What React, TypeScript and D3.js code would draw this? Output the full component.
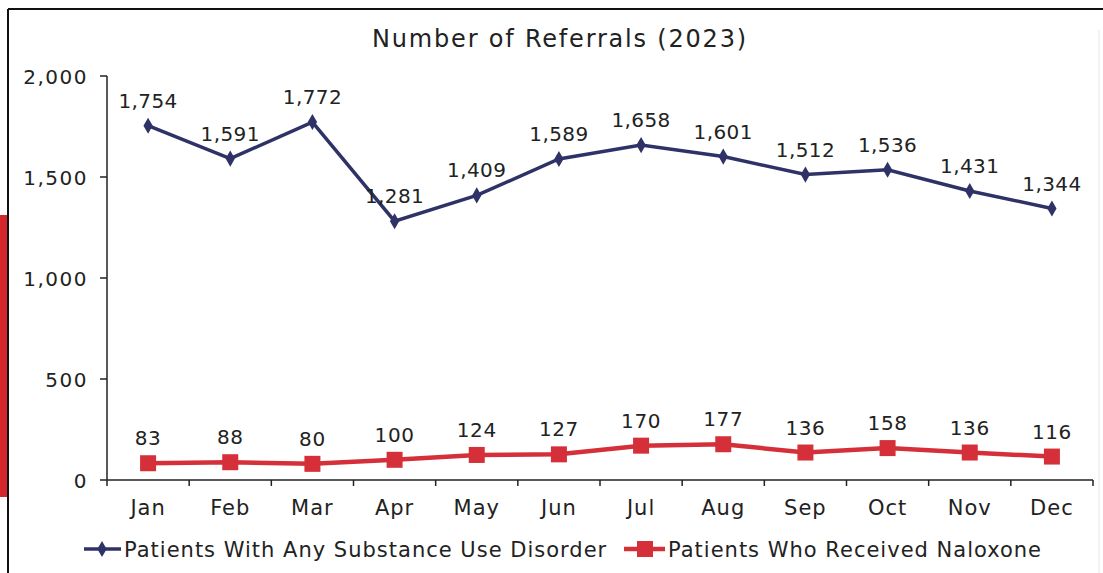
import React from "react";
import * as d3 from "d3";

const months = ["Jan", "Feb", "Mar", "Apr", "May", "Jun", "Jul", "Aug", "Sep", "Oct", "Nov", "Dec"];
const sudValues = [1754, 1591, 1772, 1281, 1409, 1589, 1658, 1601, 1512, 1536, 1431, 1344];
const naloxoneValues = [83, 88, 80, 100, 124, 127, 170, 177, 136, 158, 136, 116];
const yTicks = [0, 500, 1000, 1500, 2000];
const seriesNames = ["Patients With Any Substance Use Disorder", "Patients Who Received Naloxone"];

const W = 1103, H = 573;
const NAVY = "#2f3266";
const RED = "#d5303a";
const FONT = "'DejaVu Sans', sans-serif";
const TXT = "#222";

export default function App() {
  const left = 107, right = 1093, top = 76, bottom = 480;
  const x = d3.scaleBand<string>().domain(months).range([left, right]);
  const y = d3.scaleLinear().domain([0, 2000]).range([bottom, top]);
  const cx = (m: string) => (x(m) ?? 0) + x.bandwidth() / 2;
  const line = d3.line<number>().x((_, i) => cx(months[i])).y((d) => y(d));
  const fmt = d3.format(",");
  const diamond = d3.symbol(d3.symbolDiamond, 75)() ?? "";

  return (
    <svg width={W} height={H} style={{ position: "absolute", left: 0, top: 0, background: "#fff" }}>
      <rect x={0} y={0} width={W} height={H} fill="#fff" />
      {/* frame */}
      <line x1={8} x2={W} y1={9} y2={9} stroke="#111" strokeWidth={2} />
      <line x1={8} x2={8} y1={9} y2={H} stroke="#111" strokeWidth={2} />
      <line x1={1099} x2={1099} y1={30} y2={H} stroke="#e6e6e6" strokeWidth={1} />
      <rect x={0} y={215} width={7} height={282} fill="#d4262d" />

      <text x={560} y={47} textAnchor="middle" fontFamily={FONT} fontSize={24} letterSpacing={1.8} fill={TXT}>
        Number of Referrals (2023)
      </text>

      {/* y axis */}
      <line x1={left} x2={left} y1={top} y2={bottom} stroke="#222" strokeWidth={1.5} />
      {yTicks.map((t) => (
        <g key={t}>
          <line x1={left - 7} x2={left} y1={y(t)} y2={y(t)} stroke="#222" strokeWidth={1.5} />
          <text x={88} y={y(t) + 8} textAnchor="end" fontFamily={FONT} fontSize={20} letterSpacing={1.5} fill={TXT}>
            {fmt(t)}
          </text>
        </g>
      ))}

      {/* x axis */}
      <line x1={left} x2={right} y1={bottom} y2={bottom} stroke="#222" strokeWidth={1.5} />
      {months.map((m) => (
        <g key={m}>
          <line x1={x(m) ?? 0} x2={x(m) ?? 0} y1={bottom} y2={bottom + 6} stroke="#222" strokeWidth={1.5} />
          <text x={cx(m)} y={bottom + 35} textAnchor="middle" fontFamily={FONT} fontSize={21} letterSpacing={1} fill={TXT}>
            {m}
          </text>
        </g>
      ))}
      <line x1={right} x2={right} y1={bottom} y2={bottom + 6} stroke="#222" strokeWidth={1.5} />

      {/* series */}
      <path d={line(sudValues) ?? ""} fill="none" stroke={NAVY} strokeWidth={3.5} />
      {sudValues.map((v, i) => (
        <path key={i} d={diamond} transform={`translate(${cx(months[i])},${y(v)})`} fill={NAVY} />
      ))}
      <path d={line(naloxoneValues) ?? ""} fill="none" stroke={RED} strokeWidth={4.5} />
      {naloxoneValues.map((v, i) => (
        <rect key={i} x={cx(months[i]) - 8} y={y(v) - 8} width={16} height={16} fill={RED} />
      ))}

      {/* labels */}
      {sudValues.map((v, i) => (
        <text key={i} x={cx(months[i])} y={y(v) - 18} textAnchor="middle" fontFamily={FONT} fontSize={20} letterSpacing={0.4} fill={TXT}>
          {fmt(v)}
        </text>
      ))}
      {naloxoneValues.map((v, i) => (
        <text key={i} x={cx(months[i])} y={y(v) - 18} textAnchor="middle" fontFamily={FONT} fontSize={20} letterSpacing={0.6} fill={TXT}>
          {fmt(v)}
        </text>
      ))}

      {/* legend */}
      <g>
        <line x1={84} x2={121} y1={549} y2={549} stroke={NAVY} strokeWidth={3.5} />
        <path d={diamond} transform="translate(102,549)" fill={NAVY} />
        <text x={124} y={557} fontFamily={FONT} fontSize={21} letterSpacing={1} fill={TXT}>
          {seriesNames[0]}
        </text>
        <line x1={624} x2={665} y1={549} y2={549} stroke={RED} strokeWidth={4.5} />
        <rect x={637} y={541} width={16} height={16} fill={RED} />
        <text x={668} y={557} fontFamily={FONT} fontSize={21} letterSpacing={1} fill={TXT}>
          {seriesNames[1]}
        </text>
      </g>
    </svg>
  );
}
